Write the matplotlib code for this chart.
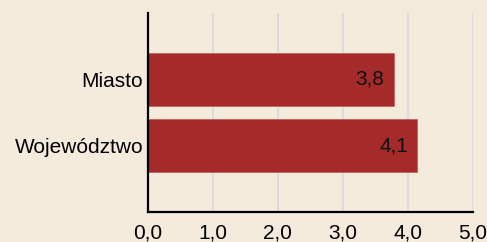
import matplotlib.pyplot as plt
import numpy as np

plt.rcParams['font.family'] = ['Liberation Sans', 'DejaVu Sans']

# dane
kategorie = ['Województwo', 'Miasto']
wartosci = [4.14, 3.78]
etykiety = ['4,1', '3,8']
xticks = [0, 1, 2, 3, 4, 5]
xtick_labels = ['0,0', '1,0', '2,0', '3,0', '4,0', '5,0']

tlo = '#F5EBDD'
kolor = '#A52A2A'
fs = 15

fig = plt.figure(figsize=(4.87, 2.42), dpi=100, facecolor=tlo)
ax = fig.add_axes([147.5 / 487, 30 / 242, (473 - 147.5) / 487, 199 / 242])
ax.set_facecolor(tlo)

y = np.arange(len(kategorie))
bars = ax.barh(y, wartosci, height=0.8, color=kolor, edgecolor='#C86060', linewidth=0.6, zorder=3)

# etykiety wartosci wewnatrz slupkow
for b, lab in zip(bars, etykiety):
    ax.annotate(lab, (b.get_width(), b.get_y() + b.get_height() / 2),
                xytext=(-6.5, 0), textcoords='offset points',
                ha='right', va='center', fontsize=fs, color='#111111', zorder=4)

ax.set_xlim(0, 5)
ax.set_ylim(-1, 2)
ax.set_xticks(xticks)
ax.set_xticklabels(xtick_labels, fontsize=fs)
ax.set_yticks(y)
ax.set_yticklabels(kategorie, fontsize=fs)
ax.tick_params(axis='both', length=0)
ax.tick_params(axis='x', pad=8.5)
ax.tick_params(axis='y', pad=3)

ax.grid(axis='x', color='#DCDCDC', linewidth=1.5, zorder=0)
for s in ['top', 'right']:
    ax.spines[s].set_visible(False)
for s in ['left', 'bottom']:
    ax.spines[s].set_linewidth(1.6)
    ax.spines[s].set_color('black')
    ax.spines[s].set_zorder(5)

fig.savefig('out.png', dpi=100, facecolor=tlo)
